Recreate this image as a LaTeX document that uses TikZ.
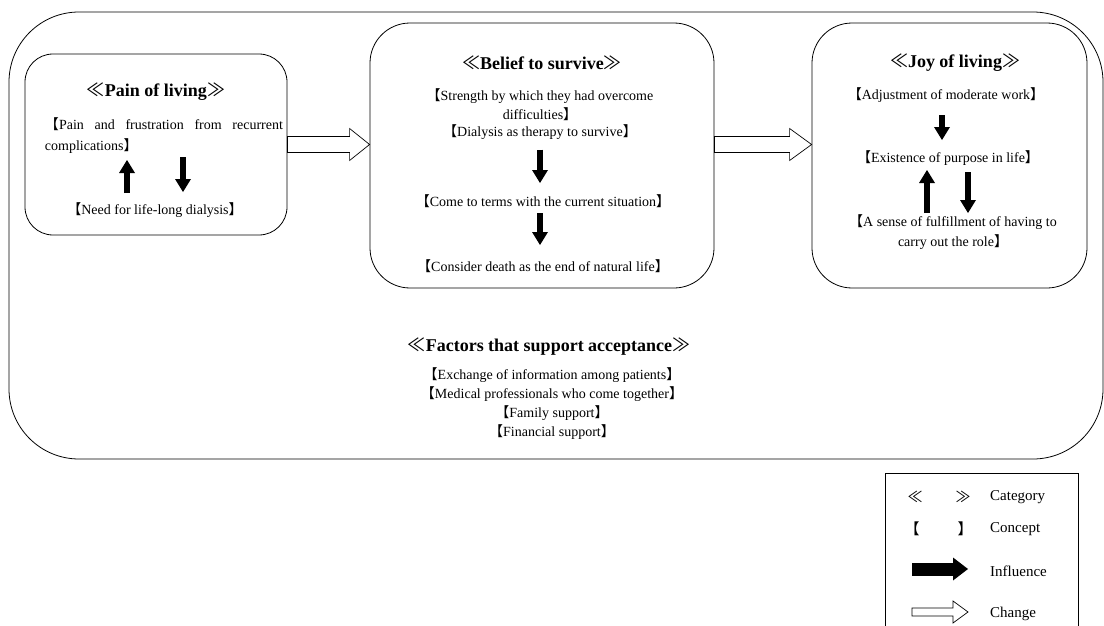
\documentclass[tikz,border=0pt]{standalone}
\usepackage{fontspec}
\setmainfont{Liberation Serif}
\newfontfamily\cjk{Noto Sans CJK JP}
\usetikzlibrary{arrows.meta,calc}

\newcommand{\cpt}[1]{{\cjk\mdseries 【}#1{\cjk\mdseries 】}}
\newcommand{\ctg}[1]{{\cjk\mdseries ≪}#1{\cjk\mdseries ≫}}
% hollow arrow: start, end, half shaft, half head, head length
\newcommand{\hollowarrow}[5]{%
  \draw[chg] ($(#1)+(0,#3)$) -- ($(#2)+(-#5,#3)$) -- ($(#2)+(-#5,#4)$) -- (#2)
    -- ($(#2)+(-#5,-#4)$) -- ($(#2)+(-#5,-#3)$) -- ($(#1)+(0,-#3)$) -- cycle;}

\tikzset{
  catbox/.style={draw, line width=0.8pt, inner sep=0pt, rounded corners=#1},
  cattitle/.style={font=\fontsize{18}{22}\selectfont\bfseries},
  concept/.style={font=\fontsize{14}{19}\selectfont, inner sep=0pt},
  infl/.style={line width=6pt, -{Triangle[length=13pt,width=16pt,line width=0pt]}},
  chg/.style={line width=0.7pt},
  legend/.style={font=\fontsize{15}{18}\selectfont, inner sep=0pt}
}

\begin{document}
\begin{tikzpicture}[x=1pt,y=-1pt]
    \useasboundingbox (0,0) rectangle (1104,626);

    % Boxes
    \node[catbox=70, minimum width=1094pt, minimum height=447pt] (outer) at (556,235.5) {};
    \node[catbox=28, minimum width=262pt, minimum height=181pt] (pain) at (156,144.5) {};
    \node[catbox=40, minimum width=344pt, minimum height=265pt] (belief) at (542,155.5) {};
    \node[catbox=40, minimum width=275pt, minimum height=265pt] (joy) at (949.5,155.5) {};

    % Pain of living
    \node[cattitle] (pt) at (156,92) {\ctg{Pain of living}};
    \node[concept, text width=238pt, align=justify, font=\fontsize{14}{21}\selectfont] (frus) at (164,135.5)
        {\cpt{Pain and frustration from recurrent\linebreak complications}};
    \node[concept] (need) at (155,210) {\cpt{Need for life-long dialysis}};

    % Belief to survive
    \node[cattitle] (bt) at (542,63) {\ctg{Belief to survive}};
    \node[concept, align=center] (str) at (540,105)
        {\cpt{Strength by which they had overcome\\difficulties}};
    \node[concept] (dia) at (540,132) {\cpt{Dialysis as therapy to survive}};
    \node[concept] (come) at (543,201) {\cpt{Come to terms with the current situation}};
    \node[concept] (cons) at (543,266) {\cpt{Consider death as the end of natural life}};

    % Joy of living
    \node[cattitle] (jt) at (955,63) {\ctg{Joy of living}};
    \node[concept] (adj) at (946,95) {\cpt{Adjustment of moderate work}};
    \node[concept] (exist) at (948,158) {\cpt{Existence of purpose in life}};
    \node[concept, align=center, font=\fontsize{14}{20}\selectfont] (sense) at (953,232)
        {\cpt{A sense of fulfillment of having to\\carry out the role}};

    % Factors that support acceptance
    \node[cattitle] (ft) at (549,347) {\ctg{Factors that support acceptance}};
    \node[concept, align=center] (fac) at (552,404)
        {\cpt{Exchange of information among patients}\\
         \cpt{Medical professionals who come together}\\
         \cpt{Family support}\\
         \cpt{Financial support}};

    % Influence arrows
    \coordinate (u1) at ([xshift=-28pt]need.center);
    \coordinate (d1) at ([xshift=28pt]need.center);
    \draw[infl, shorten <=17pt, shorten >=24.5pt] (u1) -- (u1 |- frus);
    \draw[infl, shorten <=21.5pt, shorten >=18pt] (d1 |- frus) -- (d1);

    \draw[infl, shorten <=10pt, shorten >=18pt] (dia) -- (dia |- come);
    \draw[infl, shorten <=12pt, shorten >=21pt] (dia |- come) -- (dia |- cons);

    \coordinate (d3) at ([xshift=-4pt]adj.center);
    \coordinate (u3) at ([xshift=-26pt]sense.center);
    \coordinate (d4) at ([xshift=15pt]sense.center);
    \draw[infl, shorten <=20pt, shorten >=18pt] (d3) -- (d3 |- exist);
    \draw[infl, shorten <=19pt, shorten >=12pt] (u3) -- (u3 |- exist);
    \draw[infl, shorten <=14pt, shorten >=19pt] (d4 |- exist) -- (d4);

    % Change arrows
    \coordinate (c1s) at (pain.east);
    \coordinate (c1e) at (pain.east -| belief.west);
    \coordinate (c2s) at (pain.east -| belief.east);
    \coordinate (c2e) at (pain.east -| joy.west);
    \hollowarrow{c1s}{c1e}{8}{16}{20}
    \hollowarrow{c2s}{c2e}{8}{16}{22}

    % Legend
    \draw[line width=0.7pt] (885,626) -- (885,473) -- (1078,473) -- (1078,626);
    \node[legend] (lg1a) at (915,497) {{\cjk ≪}};
    \node[legend] (lg1b) at (963,497) {{\cjk ≫}};
    \node[legend, anchor=west] (lg1) at (990,497) {Category};
    \node[legend] (lg2a) at (912,529) {{\cjk 【}};
    \node[legend] (lg2b) at (965,529) {{\cjk 】}};
    \node[legend, anchor=west] (lg2) at (990,529) {Concept};
    \coordinate (li1) at (912,569);
    \coordinate (li2) at (968,569);
    \draw[infl, line width=13pt, -{Triangle[length=15pt,width=23pt,line width=0pt]}] (li1) -- (li2);
    \node[legend, anchor=west] (lg3) at (990,571) {Influence};
    \coordinate (lc1) at (912,612);
    \coordinate (lc2) at (968,612);
    \hollowarrow{lc1}{lc2}{4}{11}{15}
    \node[legend, anchor=west] (lg4) at (990,614) {Change};
\end{tikzpicture}
\end{document}
